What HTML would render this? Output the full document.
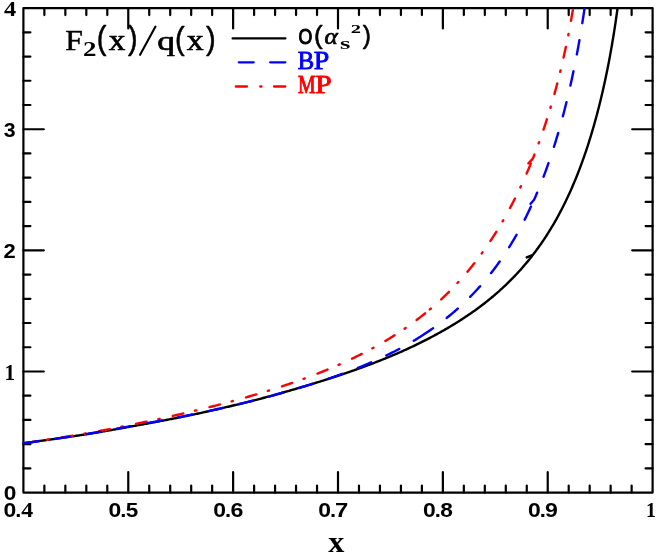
<!DOCTYPE html>
<html><head><meta charset="utf-8"><title>F2(x)/q(x)</title>
<style>
html,body{margin:0;padding:0;background:#fff;}
body{width:656px;height:555px;overflow:hidden;font-family:"Liberation Serif",serif;}
svg{display:block;}
</style></head>
<body>
<svg style="will-change:transform" width="656" height="555" viewBox="0 0 656 555">
<rect x="0" y="0" width="656" height="555" fill="#fff"/>
<defs><clipPath id="c"><rect x="22.30" y="7.10" width="631.40" height="486.50"/></clipPath></defs>
<g fill="none" stroke="#000" stroke-width="2.2" stroke-linecap="round" stroke-linejoin="round">
<rect x="23.4" y="8.1" width="629.20" height="484.50"/>
<path d="M44.37,492.6 V485.60 M44.37,8.1 V15.10 M65.35,492.6 V485.60 M65.35,8.1 V15.10 M86.32,492.6 V485.60 M86.32,8.1 V15.10 M107.29,492.6 V485.60 M107.29,8.1 V15.10 M128.27,492.6 V472.20 M128.27,8.1 V28.50 M149.24,492.6 V485.60 M149.24,8.1 V15.10 M170.21,492.6 V485.60 M170.21,8.1 V15.10 M191.19,492.6 V485.60 M191.19,8.1 V15.10 M212.16,492.6 V485.60 M212.16,8.1 V15.10 M233.13,492.6 V472.20 M233.13,8.1 V28.50 M254.11,492.6 V485.60 M254.11,8.1 V15.10 M275.08,492.6 V485.60 M275.08,8.1 V15.10 M296.05,492.6 V485.60 M296.05,8.1 V15.10 M317.03,492.6 V485.60 M317.03,8.1 V15.10 M338.00,492.6 V472.20 M338.00,8.1 V28.50 M358.97,492.6 V485.60 M358.97,8.1 V15.10 M379.95,492.6 V485.60 M379.95,8.1 V15.10 M400.92,492.6 V485.60 M400.92,8.1 V15.10 M421.89,492.6 V485.60 M421.89,8.1 V15.10 M442.87,492.6 V472.20 M442.87,8.1 V28.50 M463.84,492.6 V485.60 M463.84,8.1 V15.10 M484.81,492.6 V485.60 M484.81,8.1 V15.10 M505.79,492.6 V485.60 M505.79,8.1 V15.10 M526.76,492.6 V485.60 M526.76,8.1 V15.10 M547.73,492.6 V472.20 M547.73,8.1 V28.50 M568.71,492.6 V485.60 M568.71,8.1 V15.10 M589.68,492.6 V485.60 M589.68,8.1 V15.10 M610.65,492.6 V485.60 M610.65,8.1 V15.10 M631.63,492.6 V485.60 M631.63,8.1 V15.10 M23.4,468.38 H30.40 M652.6,468.38 H645.60 M23.4,444.15 H30.40 M652.6,444.15 H645.60 M23.4,419.93 H30.40 M652.6,419.93 H645.60 M23.4,395.70 H30.40 M652.6,395.70 H645.60 M23.4,371.48 H43.80 M652.6,371.48 H632.20 M23.4,347.25 H30.40 M652.6,347.25 H645.60 M23.4,323.02 H30.40 M652.6,323.02 H645.60 M23.4,298.80 H30.40 M652.6,298.80 H645.60 M23.4,274.58 H30.40 M652.6,274.58 H645.60 M23.4,250.35 H43.80 M652.6,250.35 H632.20 M23.4,226.12 H30.40 M652.6,226.12 H645.60 M23.4,201.90 H30.40 M652.6,201.90 H645.60 M23.4,177.68 H30.40 M652.6,177.68 H645.60 M23.4,153.45 H30.40 M652.6,153.45 H645.60 M23.4,129.23 H43.80 M652.6,129.23 H632.20 M23.4,105.00 H30.40 M652.6,105.00 H645.60 M23.4,80.77 H30.40 M652.6,80.77 H645.60 M23.4,56.55 H30.40 M652.6,56.55 H645.60 M23.4,32.32 H30.40 M652.6,32.32 H645.60"/>
<path d="M232.6,38.4 H285.4"/>
<path d="M140.1,54.8 L155.5,26.6" stroke-width="2.1"/>
</g>
<g fill="none" stroke-width="2.4" stroke-linecap="round" stroke-linejoin="round" clip-path="url(#c)">
<path d="M23.40,443.14 L24.40,443.01 L25.40,442.88 L26.40,442.75 L27.40,442.62 L28.39,442.49 L29.39,442.36 L30.39,442.23 L31.39,442.09 L32.39,441.96 L33.39,441.83 L34.39,441.70 L35.39,441.56 L36.39,441.43 L37.39,441.30 L38.38,441.16 L39.38,441.03 L40.38,440.89 L41.38,440.76 L42.38,440.62 L43.38,440.48 L44.38,440.35 L45.38,440.21 L46.38,440.07 L47.38,439.93 L48.37,439.80 L49.37,439.66 L50.37,439.52 L51.37,439.38 L52.37,439.24 L53.37,439.10 L54.37,438.96 L55.37,438.82 L56.37,438.68 L57.37,438.54 L58.36,438.39 L59.36,438.25 L60.36,438.11 L61.36,437.97 L62.36,437.82 L63.36,437.68 L64.36,437.54 L65.36,437.39 L66.36,437.25 L67.36,437.10 L68.35,436.96 L69.35,436.81 L70.35,436.66 L71.35,436.52 L72.35,436.37 L73.35,436.22 L74.35,436.07 L75.35,435.93 L76.35,435.78 L77.35,435.63 L78.34,435.48 L79.34,435.33 L80.34,435.18 L81.34,435.03 L82.34,434.88 L83.34,434.72 L84.34,434.57 L85.34,434.42 L86.34,434.27 L87.34,434.11 L88.33,433.96 L89.33,433.81 L90.33,433.65 L91.33,433.48 L92.33,433.31 L93.33,433.14 L94.33,432.97 L95.33,432.80 L96.33,432.63 L97.33,432.46 L98.32,432.29 L99.32,432.12 L100.32,431.95 L101.32,431.78 L102.32,431.60 L103.32,431.43 L104.32,431.26 L105.32,431.08 L106.32,430.91 L107.32,430.74 L108.31,430.56 L109.31,430.38 L110.31,430.21 L111.31,430.03 L112.31,429.86 L113.31,429.68 L114.31,429.50 L115.31,429.32 L116.31,429.14 L117.31,428.96 L118.30,428.79 L119.30,428.61 L120.30,428.43 L121.30,428.24 L122.30,428.06 L123.30,427.88 L124.30,427.70 L125.30,427.52 L126.30,427.33 L127.29,427.15 L128.29,426.97 L129.29,426.78 L130.29,426.60 L131.29,426.42 L132.29,426.25 L133.29,426.07 L134.29,425.89 L135.29,425.71 L136.29,425.54 L137.28,425.36 L138.28,425.18 L139.28,425.00 L140.28,424.82 L141.28,424.63 L142.28,424.45 L143.28,424.27 L144.28,424.09 L145.28,423.91 L146.28,423.72 L147.27,423.54 L148.27,423.35 L149.27,423.17 L150.27,422.98 L151.27,422.80 L152.27,422.61 L153.27,422.43 L154.27,422.24 L155.27,422.05 L156.27,421.86 L157.26,421.67 L158.26,421.49 L159.26,421.30 L160.26,421.11 L161.26,420.92 L162.26,420.72 L163.26,420.53 L164.26,420.34 L165.26,420.15 L166.26,419.96 L167.25,419.76 L168.25,419.57 L169.25,419.37 L170.25,419.18 L171.25,418.98 L172.25,418.79 L173.25,418.59 L174.25,418.39 L175.25,418.20 L176.25,418.00 L177.24,417.80 L178.24,417.60 L179.24,417.40 L180.24,417.20 L181.24,417.00 L182.24,416.80 L183.24,416.60 L184.24,416.40 L185.24,416.19 L186.24,415.99 L187.23,415.79 L188.23,415.58 L189.23,415.38 L190.23,415.17 L191.23,414.97 L192.23,414.76 L193.23,414.55 L194.23,414.34 L195.23,414.14 L196.23,413.93 L197.22,413.72 L198.22,413.51 L199.22,413.30 L200.22,413.09 L201.22,412.87 L202.22,412.65 L203.22,412.42 L204.22,412.20 L205.22,411.98 L206.22,411.76 L207.21,411.53 L208.21,411.31 L209.21,411.09 L210.21,410.86 L211.21,410.63 L212.21,410.41 L213.21,410.18 L214.21,409.95 L215.21,409.73 L216.20,409.50 L217.20,409.27 L218.20,409.04 L219.20,408.81 L220.20,408.58 L221.20,408.35 L222.20,408.11 L223.20,407.88 L224.20,407.65 L225.20,407.41 L226.19,407.18 L227.19,406.94 L228.19,406.71 L229.19,406.47 L230.19,406.23 L231.19,406.00 L232.19,405.76 L233.19,405.52 L234.19,405.28 L235.19,405.04 L236.18,404.80 L237.18,404.56 L238.18,404.31 L239.18,404.07 L240.18,403.83 L241.18,403.58 L242.18,403.34 L243.18,403.09 L244.18,402.85 L245.18,402.60 L246.17,402.35 L247.17,402.10 L248.17,401.85 L249.17,401.60 L250.17,401.35 L251.17,401.10 L252.17,400.85 L253.17,400.60 L254.17,400.34 L255.17,400.09 L256.16,399.84 L257.16,399.58 L258.16,399.32 L259.16,399.07 L260.16,398.81 L261.16,398.54 L262.16,398.28 L263.16,398.01 L264.16,397.74 L265.16,397.47 L266.15,397.20 L267.15,396.93 L268.15,396.66 L269.15,396.39 L270.15,396.12 L271.15,395.84 L272.15,395.57 L273.15,395.29 L274.15,395.02 L275.15,394.74 L276.14,394.46 L277.14,394.19 L278.14,393.91 L279.14,393.63 L280.14,393.35 L281.14,393.06 L282.14,392.78 L283.14,392.50 L284.14,392.22 L285.14,391.93 L286.13,391.64 L287.13,391.36 L288.13,391.07 L289.13,390.78 L290.13,390.49 L291.13,390.20 L292.13,389.91 L293.13,389.62 L294.13,389.33 L295.13,389.03 L296.12,388.74 L297.12,388.44 L298.12,388.15 L299.12,387.85 L300.12,387.55 L301.12,387.26 L302.12,386.97 L303.12,386.68 L304.12,386.38 L305.12,386.09 L306.11,385.79 L307.11,385.49 L308.11,385.19 L309.11,384.89 L310.11,384.59 L311.11,384.29 L312.11,383.99 L313.11,383.69 L314.11,383.38 L315.10,383.08 L316.10,382.77 L317.10,382.46 L318.10,382.15 L319.10,381.84 L320.10,381.53 L321.10,381.22 L322.10,380.91 L323.10,380.59 L324.10,380.28 L325.09,379.96 L326.09,379.65 L327.09,379.33 L328.09,379.01 L329.09,378.69 L330.09,378.36 L331.09,378.04 L332.09,377.72 L333.09,377.39 L334.09,377.07 L335.08,376.74 L336.08,376.41 L337.08,376.08 L338.08,375.75 L339.08,375.41 L340.08,375.08 L341.08,374.74 L342.08,374.41 L343.08,374.07 L344.08,373.73 L345.07,373.39 L346.07,373.05 L347.07,372.70 L348.07,372.36 L349.07,372.01 L350.07,371.67 L351.07,371.32 L352.07,370.97 L353.07,370.62 L354.07,370.26 L355.06,369.91 L356.06,369.55 L357.06,369.19 L358.06,368.84 L359.06,368.48 L360.06,368.11 L361.06,367.75 L362.06,367.39 L363.06,367.02 L364.06,366.65 L365.05,366.28 L366.05,365.91 L367.05,365.54 L368.05,365.16 L369.05,364.79 L370.05,364.41 L371.05,364.03 L372.05,363.65 L373.05,363.27 L374.05,362.88 L375.04,362.50 L376.04,362.11 L377.04,361.72 L378.04,361.33 L379.04,360.94 L380.04,360.54 L381.04,360.14 L382.04,359.75 L383.04,359.35 L384.04,358.94 L385.03,358.54 L386.03,358.13 L387.03,357.72 L388.03,357.31 L389.03,356.90 L390.03,356.49 L391.03,356.07 L392.03,355.65 L393.03,355.23 L394.03,354.81 L395.02,354.39 L396.02,353.96 L397.02,353.53 L398.02,353.10 L399.02,352.67 L400.02,352.23 L401.02,351.79 L402.02,351.34 L403.02,350.90 L404.01,350.45 L405.01,349.99 L406.01,349.54 L407.01,349.08 L408.01,348.62 L409.01,348.16 L410.01,347.70 L411.01,347.23 L412.01,346.76 L413.01,346.29 L414.00,345.81 L415.00,345.34 L416.00,344.86 L417.00,344.37 L418.00,343.89 L419.00,343.40 L420.00,342.91 L421.00,342.42 L422.00,341.92 L423.00,341.42 L423.99,340.92 L424.99,340.41 L425.99,339.90 L426.99,339.39 L427.99,338.88 L428.99,338.36 L429.99,337.84 L430.99,337.31 L431.99,336.79 L432.99,336.26 L433.98,335.72 L434.98,335.18 L435.98,334.64 L436.98,334.10 L437.98,333.55 L438.98,333.00 L439.98,332.44 L440.98,331.89 L441.98,331.32 L442.98,330.76 L443.97,330.19 L444.97,329.61 L445.97,329.04 L446.97,328.45 L447.97,327.87 L448.97,327.28 L449.97,326.68 L450.97,326.09 L451.97,325.48 L452.97,324.88 L453.96,324.27 L454.96,323.65 L455.96,323.03 L456.96,322.41 L457.96,321.78 L458.96,321.15 L459.96,320.51 L460.96,319.87 L461.96,319.23 L462.96,318.58 L463.95,317.93 L464.95,317.27 L465.95,316.61 L466.95,315.94 L467.95,315.26 L468.95,314.59 L469.95,313.90 L470.95,313.21 L471.95,312.52 L472.95,311.82 L473.94,311.11 L474.94,310.40 L475.94,309.68 L476.94,308.95 L477.94,308.22 L478.94,307.48 L479.94,306.74 L480.94,305.99 L481.94,305.24 L482.94,304.47 L483.93,303.70 L484.93,302.93 L485.93,302.14 L486.93,301.35 L487.93,300.56 L488.93,299.75 L489.93,298.94 L490.93,298.12 L491.93,297.29 L492.93,296.46 L493.92,295.61 L494.92,294.76 L495.92,293.90 L496.92,293.04 L497.92,292.16 L498.92,291.28 L499.92,290.38 L500.92,289.48 L501.92,288.57 L502.91,287.65 L503.91,286.72 L504.91,285.78 L505.91,284.83 L506.91,283.87 L507.91,282.91 L508.91,281.93 L509.91,280.94 L510.91,279.94 L511.91,278.93 L512.90,277.91 L513.90,276.88 L514.90,275.83 L515.90,274.78 L516.90,273.71 L517.90,272.64 L518.90,271.54 L519.90,270.44 L520.90,269.33 L521.90,268.20 L522.89,267.06 L523.89,265.90 L524.89,264.74 L525.89,263.55 L526.89,262.36 L527.89,261.15 L528.89,259.92 L529.89,258.68 L530.89,257.43 L531.89,256.16 L532.10,255.88" stroke="#000"/>
<path d="M526.70,257.40 L532.88,254.87 L533.88,253.57 L534.88,252.25 L535.88,250.91 L536.88,249.56 L537.88,248.19 L538.88,246.80 L539.88,245.40 L540.88,243.97 L541.88,242.53 L542.87,241.06 L543.87,239.58 L544.87,238.08 L545.87,236.55 L546.87,235.01 L547.87,233.44 L548.87,231.85 L549.87,230.24 L550.87,228.61 L551.87,226.95 L552.86,225.27 L553.86,223.56 L554.86,221.83 L555.86,220.07 L556.86,218.29 L557.86,216.48 L558.86,214.64 L559.86,212.77 L560.86,210.88 L561.86,208.95 L562.85,206.99 L563.85,205.01 L564.85,202.99 L565.85,200.94 L566.85,198.85 L567.85,196.74 L568.85,194.58 L569.85,192.39 L570.85,190.16 L571.85,187.90 L572.84,185.59 L573.84,183.25 L574.84,180.86 L575.84,178.44 L576.84,175.96 L577.84,173.45 L578.84,170.89 L579.84,168.28 L580.84,165.62 L581.84,162.91 L582.83,160.15 L583.83,157.33 L584.83,154.46 L585.83,151.54 L586.83,148.55 L587.83,145.50 L588.83,142.39 L589.83,139.22 L590.83,135.98 L591.82,132.66 L592.82,129.28 L593.82,125.82 L594.82,122.28 L595.82,118.66 L596.82,114.95 L597.82,111.16 L598.82,107.27 L599.82,103.29 L600.82,99.20 L601.81,95.01 L602.81,90.71 L603.81,86.29 L604.81,81.74 L605.81,77.06 L606.81,72.24 L607.81,67.27 L608.81,62.15 L609.81,56.85 L610.81,51.38 L611.80,45.70 L612.80,39.82 L613.80,33.71 L614.80,27.34 L615.80,20.71 L616.80,13.77 L617.80,6.51 L618.80,-1.13 L619.80,-9.17 L620.80,-17.67 L621.79,-26.69" stroke="#000"/>
<path d="M23.40,443.35 L24.32,443.21 L25.25,443.08 L26.17,442.94 L27.10,442.81 L28.02,442.67 L28.95,442.53 L29.87,442.40 L30.80,442.26 L31.72,442.12 L32.65,441.98 L33.57,441.84 L34.49,441.71 L35.42,441.57 L36.34,441.43 L37.27,441.29 L38.19,441.15 L39.12,441.01 L40.04,440.87 L40.97,440.73 L41.89,440.58 L42.82,440.44 L43.74,440.30 L44.66,440.16 L45.59,440.02 L46.51,439.87 L47.44,439.73 L48.36,439.59 L49.29,439.44 L50.21,439.30 L51.14,439.16 L52.06,439.01 L52.99,438.87 L53.91,438.72 L54.83,438.58 L55.76,438.43 L56.68,438.28 L57.61,438.14 L58.53,437.99 L59.46,437.84 L60.38,437.70 L61.31,437.55 L62.23,437.40 L63.15,437.25 L64.08,437.10 L65.00,436.95 L65.93,436.80 L66.85,436.65 L67.78,436.50 L68.70,436.35 L69.63,436.20 L70.55,436.05 L71.48,435.90 L72.40,435.75 L73.32,435.60 L74.25,435.44 L75.17,435.29 L76.10,435.14 L77.02,434.98 L77.95,434.83 L78.87,434.67 L79.80,434.52 L80.72,434.37 L81.65,434.21 L82.57,434.05 L83.49,433.90 L84.42,433.74 L85.34,433.59 L86.27,433.43 L87.19,433.27 L88.12,433.11 L89.04,432.96 L89.97,432.80 L90.89,432.63 L91.82,432.45 L92.74,432.28 L93.66,432.11 L94.59,431.94 L95.51,431.77 L96.44,431.59 L97.36,431.42 L98.29,431.24 L99.21,431.07 L100.14,430.90 L101.06,430.72 L101.99,430.54 L102.91,430.37 L103.83,430.19 L104.76,430.02 L105.68,429.84 L106.61,429.66 L107.53,429.48 L108.46,429.31 L109.38,429.13 L110.31,428.95 L111.23,428.77 L112.16,428.59 L113.08,428.41 L114.00,428.23 L114.93,428.05 L115.85,427.87 L116.78,427.68 L117.70,427.50 L118.63,427.32 L119.55,427.14 L120.48,426.95 L121.40,426.77 L122.32,426.59 L123.25,426.40 L124.17,426.22 L125.10,426.03 L126.02,425.85 L126.95,425.66 L127.87,425.47 L128.80,425.29 L129.72,425.10 L130.65,424.91 L131.57,424.72 L132.49,424.54 L133.42,424.35 L134.34,424.16 L135.27,423.97 L136.19,423.78 L137.12,423.59 L138.04,423.40 L138.97,423.20 L139.89,423.01 L140.82,422.82 L141.74,422.63 L142.66,422.43 L143.59,422.24 L144.51,422.05 L145.44,421.85 L146.36,421.66 L147.29,421.46 L148.21,421.27 L149.14,421.07 L150.06,420.87 L150.99,420.67 L151.91,420.48 L152.83,420.28 L153.76,420.08 L154.68,419.88 L155.61,419.68 L156.53,419.48 L157.46,419.28 L158.38,419.08 L159.31,418.88 L160.23,418.68 L161.16,418.47 L162.08,418.27 L163.00,418.07 L163.93,417.86 L164.85,417.66 L165.78,417.45 L166.70,417.25 L167.63,417.04 L168.55,416.84 L169.48,416.63 L170.40,416.42 L171.33,416.21 L172.25,416.00 L173.17,415.79 L174.10,415.59 L175.02,415.37 L175.95,415.16 L176.87,414.95 L177.80,414.74 L178.72,414.53 L179.65,414.32 L180.57,414.10 L181.49,413.89 L182.42,413.67 L183.34,413.46 L184.27,413.24 L185.19,413.03 L186.12,412.81 L187.04,412.59 L187.97,412.38 L188.89,412.16 L189.82,411.94 L190.74,411.72 L191.66,411.50 L192.59,411.28 L193.51,411.06 L194.44,410.83 L195.36,410.61 L196.29,410.39 L197.21,410.16 L198.14,409.94 L199.06,409.71 L199.99,409.49 L200.91,409.26 L201.83,409.03 L202.76,408.81 L203.68,408.58 L204.61,408.35 L205.53,408.12 L206.46,407.89 L207.38,407.66 L208.31,407.43 L209.23,407.19 L210.16,406.96 L211.08,406.73 L212.00,406.49 L212.93,406.26 L213.85,406.02 L214.78,405.79 L215.70,405.55 L216.63,405.31 L217.55,405.07 L218.48,404.83 L219.40,404.59 L220.33,404.35 L221.25,404.11 L222.17,403.87 L223.10,403.63 L224.02,403.38 L224.95,403.14 L225.87,402.89 L226.80,402.65 L227.72,402.40 L228.65,402.15 L229.57,401.91 L230.50,401.66 L231.42,401.41 L232.34,401.16 L233.27,400.91 L234.19,400.65 L235.12,400.40 L236.04,400.15 L236.97,399.89 L237.89,399.64 L238.82,399.38 L239.74,399.12 L240.67,398.86 L241.59,398.61 L242.51,398.35 L243.44,398.08 L244.36,397.82 L245.29,397.56 L246.21,397.30 L247.14,397.03 L248.06,396.77 L248.99,396.50 L249.91,396.23 L250.83,395.97 L251.76,395.70 L252.68,395.43 L253.61,395.16 L254.53,394.89 L255.46,394.61 L256.38,394.34 L257.31,394.06 L258.23,393.79 L259.16,393.51 L260.08,393.23 L261.00,392.96 L261.93,392.68 L262.85,392.39 L263.78,392.11 L264.70,391.83 L265.63,391.55 L266.55,391.26 L267.48,390.97 L268.40,390.69 L269.33,390.40 L270.25,390.11 L271.17,389.82 L272.10,389.53 L273.02,389.23 L273.95,388.94 L274.87,388.65 L275.80,388.35 L276.72,388.05 L277.65,387.75 L278.57,387.45 L279.50,387.15 L280.42,386.85 L281.34,386.55 L282.27,386.24 L283.19,385.94 L284.12,385.63 L285.04,385.32 L285.97,385.01 L286.89,384.70 L287.82,384.39 L288.74,384.07 L289.67,383.76 L290.59,383.44 L291.51,383.12 L292.44,382.81 L293.36,382.48 L294.29,382.16 L295.21,381.84 L296.14,381.52 L297.06,381.19 L297.99,380.86 L298.91,380.53 L299.84,380.20 L300.76,379.87 L301.68,379.54 L302.61,379.20 L303.53,378.87 L304.46,378.53 L305.38,378.19 L306.31,377.85 L307.23,377.51 L308.16,377.16 L309.08,376.82 L310.00,376.47 L310.93,376.12 L311.85,375.77 L312.78,375.42 L313.70,375.06 L314.63,374.71 L315.55,374.35 L316.48,373.99 L317.40,373.63 L318.33,373.27 L319.25,372.90 L320.17,372.54 L321.10,372.17 L322.02,371.80 L322.95,371.43 L323.87,371.05 L324.80,370.68 L325.72,370.30 L326.65,369.92 L327.57,369.54 L328.50,369.16 L329.42,368.77 L330.34,368.38 L331.27,368.00 L332.19,367.60 L333.12,367.21 L334.04,366.82 L334.97,366.42 L335.89,366.02 L336.82,365.62 L337.74,365.21 L338.67,364.81 L339.59,364.40 L340.51,363.99 L341.44,363.58 L342.36,363.16 L343.29,362.75 L344.21,362.33 L345.14,361.91 L346.06,361.48 L346.99,361.06 L347.91,360.63 L348.84,360.20 L349.76,359.76 L350.68,359.33 L351.61,358.89 L352.53,358.45 L353.46,358.00 L354.38,357.56 L355.31,357.11 L356.23,356.66 L357.16,356.20 L358.08,355.75 L359.01,355.29 L359.93,354.83 L360.85,354.36 L361.78,353.90 L362.70,353.42 L363.63,352.95 L364.55,352.48 L365.48,352.00 L366.40,351.52 L367.33,351.03 L368.25,350.54 L369.17,350.05 L370.10,349.56 L371.02,349.06 L371.95,348.56 L372.87,348.06 L373.80,347.55 L374.72,347.04 L375.65,346.53 L376.57,346.02 L377.50,345.50 L378.42,344.97 L379.34,344.45 L380.27,343.92 L381.19,343.39 L382.12,342.85 L383.04,342.31 L383.97,341.77 L384.89,341.22 L385.82,340.67 L386.74,340.12 L387.67,339.56 L388.59,339.00 L389.51,338.43 L390.44,337.86 L391.36,337.29 L392.29,336.71 L393.21,336.13 L394.14,335.55 L395.06,334.96 L395.99,334.37 L396.91,333.77 L397.84,333.17 L398.76,332.56 L399.68,331.95 L400.61,331.34 L401.53,330.72 L402.46,330.10 L403.38,329.47 L404.31,328.84 L405.23,328.20 L406.16,327.56 L407.08,326.92 L408.01,326.27 L408.93,325.61 L409.85,324.95 L410.78,324.29 L411.70,323.62 L412.63,322.95 L413.55,322.27 L414.48,321.58 L415.40,320.89 L416.33,320.20 L417.25,319.50 L418.18,318.80 L419.10,318.09 L420.02,317.37 L420.95,316.65 L421.87,315.92 L422.80,315.19 L423.72,314.45 L424.65,313.71 L425.57,312.96 L426.50,312.20 L427.20,311.62" stroke="#ff0000" stroke-dasharray="10.8 12 1.3 13.6" stroke-dashoffset="-1.2"/>
<path d="M427.50,311.38 L428.35,310.67 L429.27,309.90 L430.19,309.12 L431.12,308.34 L432.04,307.55 L432.97,306.75 L433.89,305.94 L434.82,305.13 L435.74,304.31 L436.67,303.49 L437.59,302.66 L438.51,301.82 L439.44,300.98 L440.36,300.13 L441.29,299.27 L442.21,298.40 L443.14,297.53 L444.06,296.65 L444.99,295.76 L445.91,294.87 L446.84,293.97 L447.76,293.06 L448.68,292.14 L449.61,291.21 L450.53,290.28 L451.46,289.34 L452.38,288.39 L453.31,287.43 L454.23,286.47 L455.16,285.49 L456.08,284.51 L457.01,283.52 L457.93,282.52 L458.85,281.51 L459.78,280.49 L460.70,279.47 L461.63,278.43 L462.55,277.39 L463.48,276.33 L464.40,275.27 L465.33,274.20 L466.25,273.11 L467.18,272.02 L468.10,270.92 L469.02,269.81 L469.95,268.68 L470.87,267.55 L471.80,266.41 L472.72,265.25 L473.65,264.09 L474.57,262.91 L475.50,261.73 L476.42,260.53 L477.35,259.32 L478.27,258.10 L479.19,256.87 L480.12,255.63 L481.04,254.37 L481.97,253.10 L482.89,251.82 L483.82,250.53 L484.74,249.23 L485.67,247.91 L486.59,246.58 L487.52,245.24 L488.44,243.88 L489.36,242.51 L490.29,241.13 L491.21,239.73 L492.14,238.32 L493.06,236.90 L493.99,235.46 L494.91,234.01 L495.84,232.54 L496.76,231.06 L497.68,229.56 L498.61,228.05 L499.53,226.52 L500.46,224.97 L501.38,223.41 L502.31,221.84 L503.23,220.24 L504.16,218.63 L505.08,217.00 L506.01,215.36 L506.93,213.70 L507.85,212.02 L508.78,210.32 L509.70,208.60 L510.63,206.87 L511.55,205.11 L512.48,203.34 L513.40,201.55 L514.33,199.73 L515.25,197.90 L516.18,196.04 L517.10,194.17 L518.02,192.27 L518.95,190.35 L519.87,188.41 L520.80,186.45 L521.72,184.46 L522.65,182.45 L523.57,180.41 L524.50,178.35 L525.42,176.27 L526.35,174.16 L527.27,172.02 L528.19,169.86 L529.12,167.67 L530.04,165.45 L530.97,163.21 L531.10,162.88" stroke="#ff0000" stroke-dasharray="10.8 12.3 1.3 13.9" stroke-dashoffset="20.1"/>
<path d="M526.80,165.10 L532.82,158.63 L533.74,156.29 L534.67,153.93 L535.59,151.53 L536.52,149.09 L537.44,146.63 L538.36,144.13 L539.29,141.59 L540.21,139.02 L541.14,136.41 L542.06,133.76 L542.99,131.07 L543.91,128.35 L544.84,125.57 L545.76,122.76 L546.69,119.90 L547.61,116.99 L548.53,114.04 L549.46,111.03 L550.38,107.98 L551.31,104.87 L552.23,101.70 L553.16,98.48 L554.08,95.20 L555.01,91.85 L555.93,88.44 L556.85,84.97 L557.78,81.42 L558.70,77.80 L559.63,74.10 L560.55,70.32 L561.48,66.46 L562.40,62.52 L563.33,58.47 L564.25,54.34 L565.18,50.10 L566.10,45.75 L567.02,41.29 L567.95,36.71 L568.87,32.01 L569.80,27.17 L570.72,22.19 L571.65,17.07 L572.57,11.78 L573.50,6.33 L574.42,0.70 L575.35,-5.12 L576.27,-11.15 L577.19,-17.39" stroke="#ff0000" stroke-dasharray="10.8 12 1.3 13.3" stroke-dashoffset="-2.4"/>
<path d="M23.40,443.34 L24.34,443.21 L25.29,443.08 L26.23,442.95 L27.18,442.82 L28.12,442.68 L29.06,442.55 L30.01,442.42 L30.95,442.29 L31.90,442.15 L32.84,442.02 L33.78,441.89 L34.73,441.75 L35.67,441.62 L36.61,441.48 L37.56,441.35 L38.50,441.21 L39.45,441.08 L40.39,440.94 L41.33,440.81 L42.28,440.67 L43.22,440.54 L44.17,440.40 L45.11,440.26 L46.05,440.13 L47.00,439.99 L47.94,439.85 L48.89,439.71 L49.83,439.57 L50.77,439.44 L51.72,439.30 L52.66,439.16 L53.60,439.02 L54.55,438.88 L55.49,438.74 L56.44,438.60 L57.38,438.46 L58.32,438.32 L59.27,438.18 L60.21,438.04 L61.16,437.90 L62.10,437.76 L63.04,437.61 L63.99,437.47 L64.93,437.33 L65.88,437.19 L66.82,437.04 L67.76,436.90 L68.71,436.76 L69.65,436.61 L70.59,436.47 L71.54,436.33 L72.48,436.18 L73.43,436.04 L74.37,435.89 L75.31,435.75 L76.26,435.60 L77.20,435.45 L78.15,435.31 L79.09,435.16 L80.03,435.01 L80.98,434.87 L81.92,434.72 L82.87,434.57 L83.81,434.42 L84.75,434.28 L85.70,434.13 L86.64,433.98 L87.59,433.83 L88.53,433.68 L89.47,433.53 L90.42,433.38 L91.36,433.21 L92.30,433.05 L93.25,432.89 L94.19,432.72 L95.14,432.56 L96.08,432.40 L97.02,432.23 L97.97,432.07 L98.91,431.90 L99.86,431.74 L100.80,431.57 L101.74,431.41 L102.69,431.24 L103.63,431.07 L104.58,430.91 L105.52,430.74 L106.46,430.57 L107.41,430.40 L108.35,430.24 L109.29,430.07 L110.24,429.90 L111.18,429.73 L112.13,429.56 L113.07,429.39 L114.01,429.22 L114.96,429.05 L115.90,428.88 L116.85,428.71 L117.79,428.54 L118.73,428.37 L119.68,428.20 L120.62,428.03 L121.57,427.85 L122.51,427.68 L123.45,427.51 L124.40,427.34 L125.34,427.16 L126.28,426.99 L127.23,426.82 L128.17,426.64 L129.12,426.47 L130.06,426.29 L131.00,426.13 L131.95,425.96 L132.89,425.79 L133.84,425.62 L134.78,425.45 L135.72,425.28 L136.67,425.12 L137.61,424.95 L138.56,424.78 L139.50,424.61 L140.44,424.44 L141.39,424.27 L142.33,424.09 L143.27,423.92 L144.22,423.75 L145.16,423.58 L146.11,423.41 L147.05,423.23 L147.99,423.06 L148.94,422.89 L149.88,422.71 L150.83,422.54 L151.77,422.37 L152.71,422.19 L153.66,422.02 L154.60,421.84 L155.55,421.67 L156.49,421.49 L157.43,421.31 L158.38,421.14 L159.32,420.96 L160.27,420.78 L161.21,420.60 L162.15,420.42 L163.10,420.25 L164.04,420.07 L164.98,419.89 L165.93,419.71 L166.87,419.53 L167.82,419.35 L168.76,419.17 L169.70,418.99 L170.65,418.80 L171.59,418.62 L172.54,418.44 L173.48,418.26 L174.42,418.07 L175.37,417.89 L176.31,417.71 L177.26,417.52 L178.20,417.34 L179.14,417.15 L180.09,416.97 L181.03,416.78 L181.97,416.59 L182.92,416.41 L183.86,416.22 L184.81,416.03 L185.75,415.84 L186.69,415.66 L187.64,415.47 L188.58,415.28 L189.53,415.09 L190.47,414.90 L191.41,414.71 L192.36,414.52 L193.30,414.33 L194.25,414.13 L195.19,413.94 L196.13,413.75 L197.08,413.55 L198.02,413.36 L198.96,413.17 L199.91,412.97 L200.85,412.77 L201.80,412.57 L202.74,412.36 L203.68,412.16 L204.63,411.95 L205.57,411.75 L206.52,411.54 L207.46,411.34 L208.40,411.13 L209.35,410.92 L210.29,410.71 L211.24,410.50 L212.18,410.30 L213.12,410.09 L214.07,409.88 L215.01,409.67 L215.96,409.46 L216.90,409.24 L217.84,409.03 L218.79,408.82 L219.73,408.61 L220.67,408.39 L221.62,408.18 L222.56,407.96 L223.51,407.75 L224.45,407.53 L225.39,407.32 L226.34,407.10 L227.28,406.88 L228.23,406.66 L229.17,406.45 L230.11,406.23 L231.06,406.01 L232.00,405.79 L232.95,405.57 L233.89,405.34 L234.83,405.12 L235.78,404.90 L236.72,404.68 L237.66,404.45 L238.61,404.23 L239.55,404.00 L240.50,403.78 L241.44,403.55 L242.38,403.32 L243.33,403.10 L244.27,402.87 L245.22,402.64 L246.16,402.41 L247.10,402.18 L248.05,401.95 L248.99,401.72 L249.94,401.48 L250.88,401.25 L251.82,401.02 L252.77,400.78 L253.71,400.55 L254.65,400.31 L255.60,400.07 L256.54,399.84 L257.49,399.60 L258.43,399.36 L259.37,399.12 L260.32,398.88 L261.26,398.63 L262.21,398.38 L263.15,398.13 L264.09,397.88 L265.04,397.63 L265.98,397.38 L266.93,397.12 L267.87,396.87 L268.81,396.62 L269.76,396.36 L270.70,396.10 L271.65,395.85 L272.59,395.59 L273.53,395.33 L274.48,395.07 L275.42,394.81 L276.36,394.55 L277.31,394.29 L278.25,394.02 L279.20,393.76 L280.14,393.49 L281.08,393.23 L282.03,392.96 L282.97,392.69 L283.92,392.43 L284.86,392.16 L285.80,391.89 L286.75,391.61 L287.69,391.34 L288.64,391.07 L289.58,390.79 L290.52,390.52 L291.47,390.24 L292.41,389.96 L293.35,389.69 L294.30,389.41 L295.24,389.12 L296.19,388.84 L297.13,388.56 L298.07,388.28 L299.02,387.99 L299.96,387.70 L300.91,387.42 L301.85,387.14 L302.79,386.86 L303.74,386.58 L304.68,386.29 L305.63,386.01 L306.57,385.72 L307.51,385.43 L308.46,385.14 L309.40,384.85 L310.34,384.56 L311.29,384.26 L312.23,383.97 L313.18,383.67 L314.12,383.38 L315.06,383.08 L316.01,382.78 L316.95,382.48 L317.90,382.17 L318.84,381.87 L319.78,381.56 L320.73,381.26 L321.67,380.95 L322.62,380.64 L323.56,380.33 L324.50,380.02 L325.45,379.70 L326.39,379.39 L327.34,379.07 L328.28,378.75 L329.22,378.43 L330.17,378.11 L331.11,377.79 L332.05,377.46 L333.00,377.13 L333.94,376.81 L334.89,376.48 L335.83,376.15 L336.77,375.81 L337.72,375.48 L338.66,375.14 L339.61,374.80 L340.55,374.46 L341.49,374.12 L342.44,373.78 L343.38,373.43 L344.33,373.09 L345.27,372.74 L346.21,372.39 L347.16,372.04 L348.10,371.68 L349.04,371.33 L349.99,370.97 L350.93,370.61 L351.88,370.25 L352.82,369.88 L353.76,369.51 L354.71,369.15 L355.65,368.78 L356.60,368.40 L357.54,368.03 L358.48,367.65 L359.43,367.27 L360.37,366.89 L361.32,366.51 L362.26,366.12 L363.20,365.74 L364.15,365.35 L365.09,364.95 L366.03,364.56 L366.98,364.16 L367.92,363.76 L368.87,363.36 L369.81,362.96 L370.75,362.55 L371.70,362.14 L372.64,361.73 L373.59,361.31 L374.53,360.90 L375.47,360.48 L376.42,360.05 L377.36,359.63 L378.31,359.20 L379.25,358.77 L380.19,358.34 L381.14,357.90 L382.08,357.46 L383.02,357.02 L383.97,356.57 L384.91,356.13 L385.86,355.67 L386.80,355.22 L387.74,354.76 L388.69,354.30 L389.63,353.84 L390.58,353.37 L391.52,352.90 L392.46,352.43 L393.41,351.96 L394.35,351.48 L395.30,350.99 L396.24,350.51 L397.18,350.02 L398.13,349.52 L399.07,349.03 L400.02,348.53 L400.96,348.02 L401.90,347.51 L402.85,346.99 L403.79,346.47 L404.73,345.95 L405.68,345.42 L406.62,344.89 L407.57,344.35 L408.51,343.81 L409.45,343.27 L410.40,342.72 L411.34,342.17 L412.29,341.61 L413.23,341.05 L414.17,340.49 L415.12,339.92 L416.06,339.35 L417.01,338.77 L417.95,338.19 L418.89,337.60 L419.84,337.01 L420.00,336.91" stroke="#0000ff" stroke-dasharray="14.5 16.62" stroke-dashoffset="-1.2"/>
<path d="M420.00,336.91 L420.78,336.41 L421.72,335.81 L422.67,335.21 L423.61,334.60 L424.56,333.98 L425.50,333.36 L426.44,332.73 L427.39,332.10 L428.33,331.47 L429.28,330.83 L430.22,330.18 L431.16,329.53 L432.11,328.87 L433.05,328.21 L434.00,327.54 L434.94,326.86 L435.88,326.18 L436.83,325.50 L437.77,324.81 L438.71,324.11 L439.66,323.40 L440.60,322.69 L441.55,321.98 L442.49,321.25 L443.43,320.52 L444.38,319.79 L445.32,319.05 L446.27,318.30 L447.21,317.54 L448.15,316.78 L449.10,316.01 L450.04,315.23 L450.99,314.45 L451.93,313.65 L452.87,312.86 L453.82,312.05 L454.76,311.24 L455.71,310.41 L456.65,309.58 L457.59,308.75 L458.54,307.90 L459.48,307.05 L460.42,306.19 L461.37,305.32 L462.31,304.45 L463.26,303.57 L464.20,302.68 L465.14,301.78 L466.09,300.87 L467.03,299.95 L467.98,299.02 L468.92,298.09 L469.86,297.14 L470.81,296.19 L471.75,295.22 L472.70,294.25 L473.64,293.26 L474.58,292.26 L475.53,291.26 L476.47,290.24 L477.41,289.22 L478.36,288.18 L479.30,287.13 L480.25,286.07 L481.19,285.00 L482.13,283.91 L483.08,282.82 L484.02,281.71 L484.97,280.60 L485.91,279.46 L486.85,278.32 L487.80,277.17 L488.74,276.00 L489.69,274.82 L490.63,273.62 L491.57,272.41 L492.52,271.19 L493.46,269.96 L494.40,268.71 L495.35,267.44 L496.29,266.17 L497.24,264.87 L498.18,263.57 L499.12,262.24 L500.07,260.90 L501.01,259.55 L501.96,258.18 L502.90,256.79 L503.84,255.39 L504.79,253.97 L505.73,252.54 L506.68,251.08 L507.62,249.61 L508.56,248.12 L509.51,246.61 L510.45,245.09 L511.40,243.54 L512.34,241.98 L513.28,240.39 L514.23,238.79 L515.17,237.17 L516.11,235.52 L517.06,233.86 L518.00,232.17 L518.95,230.46 L519.89,228.73 L520.83,226.98 L521.78,225.20 L522.72,223.40 L523.67,221.58 L524.61,219.73 L525.55,217.86 L526.50,215.96 L527.44,214.03 L528.39,212.08 L529.33,210.11 L530.27,208.10 L531.00,206.54" stroke="#0000ff" stroke-dasharray="14.5 17.1" stroke-dashoffset="-1.2"/>
<path d="M530.60,203.80 L534.05,199.80 L534.99,197.65 L535.94,195.47 L536.88,193.26 L537.82,191.01 L538.77,188.74 L539.71,186.42 L540.66,184.08 L541.60,181.70 L542.54,179.28 L543.49,176.82 L544.43,174.33 L545.38,171.80 L546.32,169.22 L547.26,166.61 L548.21,163.95 L549.15,161.25 L550.09,158.51 L551.04,155.72 L551.98,152.88 L552.93,150.00 L553.87,147.06 L554.81,144.07 L555.76,141.03 L556.70,137.94 L557.65,134.79 L558.59,131.58 L559.53,128.31 L560.48,124.98 L561.42,121.58 L562.37,118.12 L563.31,114.59 L564.25,110.99 L565.20,107.31 L566.14,103.55 L567.09,99.72 L568.03,95.80 L568.97,91.79 L569.92,87.69 L570.86,83.50 L571.80,79.21 L572.75,74.81 L573.69,70.30 L574.64,65.68 L575.58,60.94 L576.52,56.07 L577.47,51.06 L578.41,45.92 L579.36,40.63 L580.30,35.17 L581.24,29.56 L582.19,23.76 L583.13,17.77 L584.08,11.59 L585.02,5.19 L585.96,-1.44 L586.91,-8.31 L587.85,-15.45 L588.79,-22.86" stroke="#0000ff" stroke-dasharray="14.5 17.23" stroke-dashoffset="1.5"/>
</g>
<g fill="none" stroke-width="2.3" stroke-linecap="round">
<path d="M238.8,62.3 H253.7 M270.2,62.3 H285.3" stroke="#0000ff"/>
<path d="M235.8,86.5 H247 M260.2,86.5 H261.5 M274,86.5 H285.3" stroke="#ff0000"/>
</g>
<g>
<text transform="matrix(0.05730 0 0 0.05049 3.59 517.30)" x="0" y="0" font-family="Liberation Sans" font-size="400" font-weight="bold" fill="#000">0</text>
<text transform="matrix(0.05492 0 0 0.05036 15.31 517.20)" x="0" y="0" font-family="Liberation Sans" font-size="400" font-weight="bold" fill="#000">.</text>
<text transform="matrix(0.05986 0 0 0.05280 21.17 517.30)" x="0" y="0" font-family="Liberation Serif" font-size="400" font-weight="bold" fill="#000">4</text>
<text transform="matrix(0.05730 0 0 0.05049 108.46 517.30)" x="0" y="0" font-family="Liberation Sans" font-size="400" font-weight="bold" fill="#000">0</text>
<text transform="matrix(0.05492 0 0 0.05036 120.18 517.20)" x="0" y="0" font-family="Liberation Sans" font-size="400" font-weight="bold" fill="#000">.</text>
<text transform="matrix(0.05627 0 0 0.05124 125.67 517.30)" x="0" y="0" font-family="Liberation Sans" font-size="400" font-weight="bold" fill="#000">5</text>
<text transform="matrix(0.05730 0 0 0.05049 213.33 517.30)" x="0" y="0" font-family="Liberation Sans" font-size="400" font-weight="bold" fill="#000">0</text>
<text transform="matrix(0.05492 0 0 0.05036 225.04 517.20)" x="0" y="0" font-family="Liberation Sans" font-size="400" font-weight="bold" fill="#000">.</text>
<text transform="matrix(0.05792 0 0 0.05049 230.38 517.30)" x="0" y="0" font-family="Liberation Sans" font-size="400" font-weight="bold" fill="#000">6</text>
<text transform="matrix(0.05730 0 0 0.05049 318.19 517.30)" x="0" y="0" font-family="Liberation Sans" font-size="400" font-weight="bold" fill="#000">0</text>
<text transform="matrix(0.05492 0 0 0.05036 329.91 517.20)" x="0" y="0" font-family="Liberation Sans" font-size="400" font-weight="bold" fill="#000">.</text>
<text transform="matrix(0.05967 0 0 0.05124 335.07 517.30)" x="0" y="0" font-family="Liberation Sans" font-size="400" font-weight="bold" fill="#000">7</text>
<text transform="matrix(0.05730 0 0 0.05049 423.06 517.30)" x="0" y="0" font-family="Liberation Sans" font-size="400" font-weight="bold" fill="#000">0</text>
<text transform="matrix(0.05492 0 0 0.05036 434.78 517.20)" x="0" y="0" font-family="Liberation Sans" font-size="400" font-weight="bold" fill="#000">.</text>
<text transform="matrix(0.05672 0 0 0.05049 440.25 517.30)" x="0" y="0" font-family="Liberation Sans" font-size="400" font-weight="bold" fill="#000">8</text>
<text transform="matrix(0.05730 0 0 0.05049 527.93 517.30)" x="0" y="0" font-family="Liberation Sans" font-size="400" font-weight="bold" fill="#000">0</text>
<text transform="matrix(0.05492 0 0 0.05036 539.64 517.20)" x="0" y="0" font-family="Liberation Sans" font-size="400" font-weight="bold" fill="#000">.</text>
<text transform="matrix(0.05781 0 0 0.05049 545.03 517.30)" x="0" y="0" font-family="Liberation Sans" font-size="400" font-weight="bold" fill="#000">9</text>
<text transform="matrix(0.04957 0 0 0.05264 646.11 517.20)" x="0" y="0" font-family="Liberation Serif" font-size="400" font-weight="bold" fill="#000">1</text>
<text transform="matrix(0.05677 0 0 0.05014 3.70 500.40)" x="0" y="0" font-family="Liberation Sans" font-size="400" font-weight="bold" fill="#000">0</text>
<text transform="matrix(0.05297 0 0 0.05529 4.40 379.60)" x="0" y="0" font-family="Liberation Serif" font-size="400" font-weight="bold" fill="#000">1</text>
<text transform="matrix(0.05504 0 0 0.05227 3.54 258.40)" x="0" y="0" font-family="Liberation Sans" font-size="400" font-weight="bold" fill="#000">2</text>
<text transform="matrix(0.05331 0 0 0.05074 3.81 137.37)" x="0" y="0" font-family="Liberation Sans" font-size="400" font-weight="bold" fill="#000">3</text>
<text transform="matrix(0.06093 0 0 0.05204 3.97 16.00)" x="0" y="0" font-family="Liberation Serif" font-size="400" font-weight="bold" fill="#000">4</text>
<text transform="matrix(0.08049 0 0 0.07517 328.17 552.20)" x="0" y="0" font-family="Liberation Serif" font-size="400" font-weight="bold" fill="#000">x</text>
<text transform="matrix(0.07940 0 0 0.07598 65.34 49.75)" x="0" y="0" font-family="Liberation Serif" font-size="400" font-weight="normal" fill="#000" stroke="#000" stroke-width="6.44" stroke-linejoin="round">F</text>
<text transform="matrix(0.06746 0 0 0.05211 83.07 56.30)" x="0" y="0" font-family="Liberation Serif" font-size="400" font-weight="bold" fill="#000">2</text>
<text transform="matrix(0.07260 0 0 0.08077 96.85 49.16)" x="0" y="0" font-family="Liberation Sans" font-size="400" font-weight="normal" fill="#000" stroke="#000" stroke-width="6.52" stroke-linejoin="round">(</text>
<text transform="matrix(0.08298 0 0 0.07190 108.86 49.55)" x="0" y="0" font-family="Liberation Serif" font-size="400" font-weight="normal" fill="#000" stroke="#000" stroke-width="9.04" stroke-linejoin="round">x</text>
<text transform="matrix(0.07166 0 0 0.08077 127.98 49.16)" x="0" y="0" font-family="Liberation Sans" font-size="400" font-weight="normal" fill="#000" stroke="#000" stroke-width="6.56" stroke-linejoin="round">)</text>
<text transform="matrix(0.08860 0 0 0.06846 157.17 49.92)" x="0" y="0" font-family="Liberation Serif" font-size="400" font-weight="normal" fill="#000" stroke="#000" stroke-width="8.91" stroke-linejoin="round">q</text>
<text transform="matrix(0.07260 0 0 0.08050 175.05 49.18)" x="0" y="0" font-family="Liberation Sans" font-size="400" font-weight="normal" fill="#000" stroke="#000" stroke-width="6.53" stroke-linejoin="round">(</text>
<text transform="matrix(0.08455 0 0 0.07190 186.85 49.55)" x="0" y="0" font-family="Liberation Serif" font-size="400" font-weight="normal" fill="#000" stroke="#000" stroke-width="8.95" stroke-linejoin="round">x</text>
<text transform="matrix(0.07260 0 0 0.08050 205.88 49.18)" x="0" y="0" font-family="Liberation Sans" font-size="400" font-weight="normal" fill="#000" stroke="#000" stroke-width="6.53" stroke-linejoin="round">)</text>
<text transform="matrix(0.04431 0 0 0.05720 298.56 43.58)" x="0" y="0" font-family="Liberation Sans" font-size="400" font-weight="normal" fill="#000" stroke="#000" stroke-width="19.70" stroke-linejoin="round">O</text>
<text transform="matrix(0.06506 0 0 0.06467 314.09 43.64)" x="0" y="0" font-family="Liberation Sans" font-size="400" font-weight="normal" fill="#000" stroke="#000" stroke-width="9.25" stroke-linejoin="round">(</text>
<text transform="matrix(0.06351 0 0 0.05706 324.59 43.72)" x="0" y="0" font-family="Liberation Serif" font-size="400" font-weight="normal" font-style="italic" fill="#000" stroke="#000" stroke-width="11.61" stroke-linejoin="round">α</text>
<text transform="matrix(0.06652 0 0 0.04002 339.99 49.24)" x="0" y="0" font-family="Liberation Serif" font-size="400" font-weight="bold" fill="#000">s</text>
<text transform="matrix(0.05120 0 0 0.02983 350.84 33.00)" x="0" y="0" font-family="Liberation Serif" font-size="400" font-weight="bold" fill="#000">2</text>
<text transform="matrix(0.06129 0 0 0.06467 362.86 43.64)" x="0" y="0" font-family="Liberation Sans" font-size="400" font-weight="normal" fill="#000" stroke="#000" stroke-width="9.53" stroke-linejoin="round">)</text>
<text transform="matrix(0.06151 0 0 0.06158 297.84 68.98)" x="0" y="0" font-family="Liberation Serif" font-size="400" font-weight="normal" fill="#0000ff" stroke="#0000ff" stroke-width="14.62" stroke-linejoin="round">B</text>
<text transform="matrix(0.06977 0 0 0.06185 313.65 69.05)" x="0" y="0" font-family="Liberation Serif" font-size="400" font-weight="normal" fill="#0000ff" stroke="#0000ff" stroke-width="13.68" stroke-linejoin="round">P</text>
<text transform="matrix(0.04933 0 0 0.06185 297.98 93.05)" x="0" y="0" font-family="Liberation Serif" font-size="400" font-weight="normal" fill="#ff0000" stroke="#ff0000" stroke-width="16.19" stroke-linejoin="round">M</text>
<text transform="matrix(0.07388 0 0 0.06185 315.20 93.05)" x="0" y="0" font-family="Liberation Serif" font-size="400" font-weight="normal" fill="#ff0000" stroke="#ff0000" stroke-width="13.26" stroke-linejoin="round">P</text>
</g>
</svg>
</body></html>
